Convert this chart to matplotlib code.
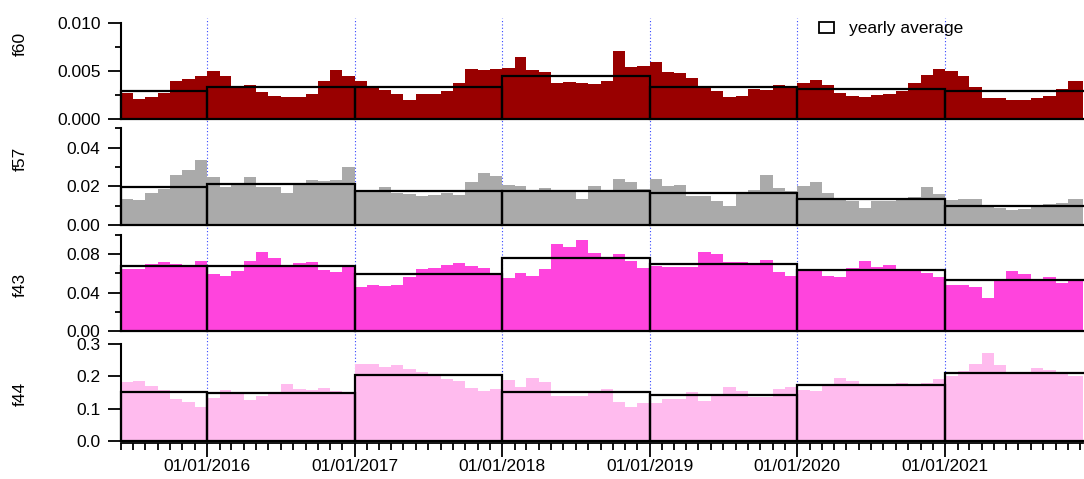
import numpy as np
import pandas as pd
import matplotlib
matplotlib.use('Agg')
import matplotlib.pyplot as plt
import matplotlib.dates as mdates
from matplotlib.patches import Patch

plt.rcParams['font.family'] = ['Liberation Sans', 'DejaVu Sans']

# monthly values, Jun 2015 .. Dec 2021
months = pd.date_range('2015-06-01', '2021-12-01', freq='MS')

f60 = [0.00266, 0.00207, 0.00228, 0.00266, 0.00397, 0.00417, 0.00448,
       0.00497, 0.00448, 0.00317, 0.00348, 0.00279, 0.00238, 0.00228, 0.00228, 0.00259, 0.00397, 0.00514, 0.00448,
       0.00393, 0.00328, 0.00300, 0.00255, 0.00197, 0.00255, 0.00255, 0.00290, 0.00369, 0.00517, 0.00510, 0.00517,
       0.00530, 0.00648, 0.00510, 0.00483, 0.00379, 0.00383, 0.00379, 0.00366, 0.00390, 0.00710, 0.00538, 0.00555,
       0.00597, 0.00493, 0.00480, 0.00428, 0.00328, 0.00290, 0.00228, 0.00238, 0.00307, 0.00300, 0.00355, 0.00320,
       0.00369, 0.00400, 0.00355, 0.00266, 0.00238, 0.00228, 0.00245, 0.00255, 0.00293, 0.00376, 0.00455, 0.00517,
       0.00497, 0.00450, 0.00334, 0.00214, 0.00214, 0.00197, 0.00197, 0.00214, 0.00238, 0.00307, 0.00390, 0.00390]

f57 = [0.0133, 0.0130, 0.0164, 0.0187, 0.0256, 0.0286, 0.0338,
       0.0249, 0.0199, 0.0211, 0.0249, 0.0199, 0.0196, 0.0164, 0.0211, 0.0232, 0.0229, 0.0234, 0.0301,
       0.0173, 0.0172, 0.0194, 0.0165, 0.0161, 0.0149, 0.0156, 0.0166, 0.0156, 0.0222, 0.0270, 0.0251,
       0.0206, 0.0204, 0.0178, 0.0190, 0.0173, 0.0173, 0.0133, 0.0201, 0.0173, 0.0237, 0.0223, 0.0187,
       0.0237, 0.0204, 0.0208, 0.0151, 0.0151, 0.0125, 0.0097, 0.0161, 0.0180, 0.0256, 0.0190, 0.0177,
       0.0203, 0.0222, 0.0165, 0.0139, 0.0126, 0.0090, 0.0125, 0.0126, 0.0137, 0.0144, 0.0197, 0.0161,
       0.0128, 0.0133, 0.0133, 0.0100, 0.0087, 0.0078, 0.0081, 0.0092, 0.0111, 0.0114, 0.0135, 0.0135]

f43 = [0.0650, 0.0643, 0.0696, 0.0717, 0.0699, 0.0680, 0.0730,
       0.0595, 0.0574, 0.0623, 0.0730, 0.0824, 0.0758, 0.0664, 0.0710, 0.0717, 0.0640, 0.0619, 0.0664,
       0.0456, 0.0477, 0.0472, 0.0480, 0.0567, 0.0647, 0.0661, 0.0689, 0.0710, 0.0675, 0.0661, 0.0609,
       0.0550, 0.0602, 0.0570, 0.0650, 0.0904, 0.0873, 0.0943, 0.0817, 0.0776, 0.0807, 0.0727, 0.0657,
       0.0678, 0.0668, 0.0668, 0.0671, 0.0821, 0.0800, 0.0717, 0.0717, 0.0713, 0.0741, 0.0616, 0.0574,
       0.0626, 0.0626, 0.0570, 0.0560, 0.0657, 0.0730, 0.0668, 0.0685, 0.0640, 0.0637, 0.0609, 0.0560,
       0.0477, 0.0480, 0.0459, 0.0344, 0.0518, 0.0623, 0.0598, 0.0529, 0.0560, 0.0504, 0.0518, 0.0518]

f44 = [0.184, 0.186, 0.171, 0.159, 0.131, 0.121, 0.104,
       0.134, 0.159, 0.152, 0.128, 0.140, 0.147, 0.178, 0.162, 0.158, 0.165, 0.155, 0.152,
       0.239, 0.239, 0.229, 0.237, 0.223, 0.213, 0.207, 0.192, 0.187, 0.165, 0.156, 0.161,
       0.189, 0.168, 0.194, 0.183, 0.138, 0.140, 0.139, 0.150, 0.161, 0.120, 0.106, 0.117,
       0.117, 0.131, 0.129, 0.152, 0.124, 0.142, 0.167, 0.156, 0.137, 0.135, 0.161, 0.167,
       0.158, 0.154, 0.171, 0.194, 0.186, 0.172, 0.172, 0.172, 0.179, 0.173, 0.180, 0.192,
       0.201, 0.216, 0.240, 0.274, 0.236, 0.212, 0.212, 0.226, 0.219, 0.212, 0.202, 0.202]

# yearly averages, 2015 .. 2021
year_start = pd.to_datetime(['2015-06-01', '2016-01-01', '2017-01-01', '2018-01-01',
                             '2019-01-01', '2020-01-01', '2021-01-01'])
year_end = pd.to_datetime(['2016-01-01', '2017-01-01', '2018-01-01', '2019-01-01',
                           '2020-01-01', '2021-01-01', '2022-01-01'])
f60_avg = [0.00293, 0.00328, 0.00328, 0.00448, 0.00328, 0.00310, 0.00293]
f57_avg = [0.0196, 0.0213, 0.0177, 0.0178, 0.0165, 0.0137, 0.0100]
f43_avg = [0.0682, 0.0682, 0.0590, 0.0765, 0.0699, 0.0640, 0.0532]
f44_avg = [0.153, 0.150, 0.205, 0.152, 0.143, 0.173, 0.212]

names = ['f60', 'f57', 'f43', 'f44']
series = [f60, f57, f43, f44]
averages = [f60_avg, f57_avg, f43_avg, f44_avg]
colors = ['#990000', '#aaaaaa', '#ff44dd', '#ffbbee']
ylims = [0.010, 0.05, 0.10, 0.30]
major = [[0, 0.005, 0.010], [0, 0.02, 0.04], [0, 0.04, 0.08], [0, 0.1, 0.2, 0.3]]
minor = [[0.0025, 0.0075], [0.01, 0.03, 0.05], [0.02, 0.06, 0.10], []]
fmts = ['%.3f', '%.2f', '%.2f', '%.1f']
# panel top/bottom in pixels, label y in pixels
rows = [(22.7, 119.0, 44), (128.3, 225.0, 159), (235.0, 331.0, 285), (344.3, 440.7, 394)]

W, H = 1084, 479
fig = plt.figure(figsize=(W / 100, H / 100), dpi=100)

x0 = mdates.date2num(pd.Timestamp('2015-06-01'))
x1 = mdates.date2num(pd.Timestamp('2021-12-08'))
left_px, right_px = 120.6, 1083.0
fs = 12.5

# year separators across all panels
over = fig.add_axes([left_px / W, 1 - 445 / H, (right_px - left_px) / W, (445 - 18) / H])
over.set_xlim(x0, x1)
over.set_ylim(0, 1)
over.axis('off')
for yr in range(2016, 2022):
    over.axvline(mdates.date2num(pd.Timestamp(f'{yr}-01-01')), color='#3344ff',
                 lw=0.8, ls=(0, (1, 2)))

mx = mdates.date2num(months)
mw = mdates.date2num(months + pd.offsets.MonthBegin(1)) - mx
ys = mdates.date2num(year_start)
yw = mdates.date2num(year_end) - ys

axes = []
for i in range(4):
    top, bot, ly = rows[i]
    ax = fig.add_axes([left_px / W, 1 - bot / H, (right_px - left_px) / W, (bot - top) / H])
    ax.patch.set_alpha(0)
    ax.bar(mx, series[i], width=mw, align='edge', color=colors[i], lw=0, zorder=2)
    ax.bar(ys, averages[i], width=yw, align='edge', fill=False, edgecolor='black',
           lw=1.6, zorder=3, clip_on=False)
    ax.set_xlim(x0, x1)
    ax.set_ylim(0, ylims[i])
    ax.set_yticks(major[i])
    ax.set_yticks(minor[i], minor=True)
    ax.set_yticklabels([fmts[i] % v for v in major[i]], fontsize=fs)
    ax.tick_params(axis='y', which='major', length=9.5, width=1.3, pad=5)
    ax.tick_params(axis='y', which='minor', length=4.5, width=1.3)
    for s in ['top', 'right']:
        ax.spines[s].set_visible(False)
    ax.spines['left'].set_linewidth(1.5)
    fig.text(20.5 / W, 1 - ly / H, names[i], rotation=90, ha='center', va='center', fontsize=fs)
    axes.append(ax)

for ax in axes[:3]:
    ax.spines['bottom'].set_visible(False)
    ax.tick_params(axis='x', which='both', bottom=False, labelbottom=False)

# date axis on the last panel
axb = axes[3]
axb.spines['bottom'].set_position(('outward', 2))
axb.spines['bottom'].set_linewidth(1.3)
axb.xaxis.set_major_locator(mdates.YearLocator())
axb.xaxis.set_major_formatter(mdates.DateFormatter('%m/%d/%Y'))
axb.xaxis.set_minor_locator(mdates.MonthLocator())
axb.tick_params(axis='x', which='major', length=10, width=1.3, pad=1.5, labelsize=fs)
axb.tick_params(axis='x', which='minor', length=5, width=1.3)

fig.legend(handles=[Patch(facecolor='white', edgecolor='black', lw=1.3)],
           labels=['yearly average'], loc='center left',
           bbox_to_anchor=(819 / W, 1 - 29 / H), frameon=False, fontsize=fs,
           handlelength=0.85, handleheight=0.65, handletextpad=0.9,
           borderpad=0, borderaxespad=0)

fig.savefig('out.png', dpi=100)
